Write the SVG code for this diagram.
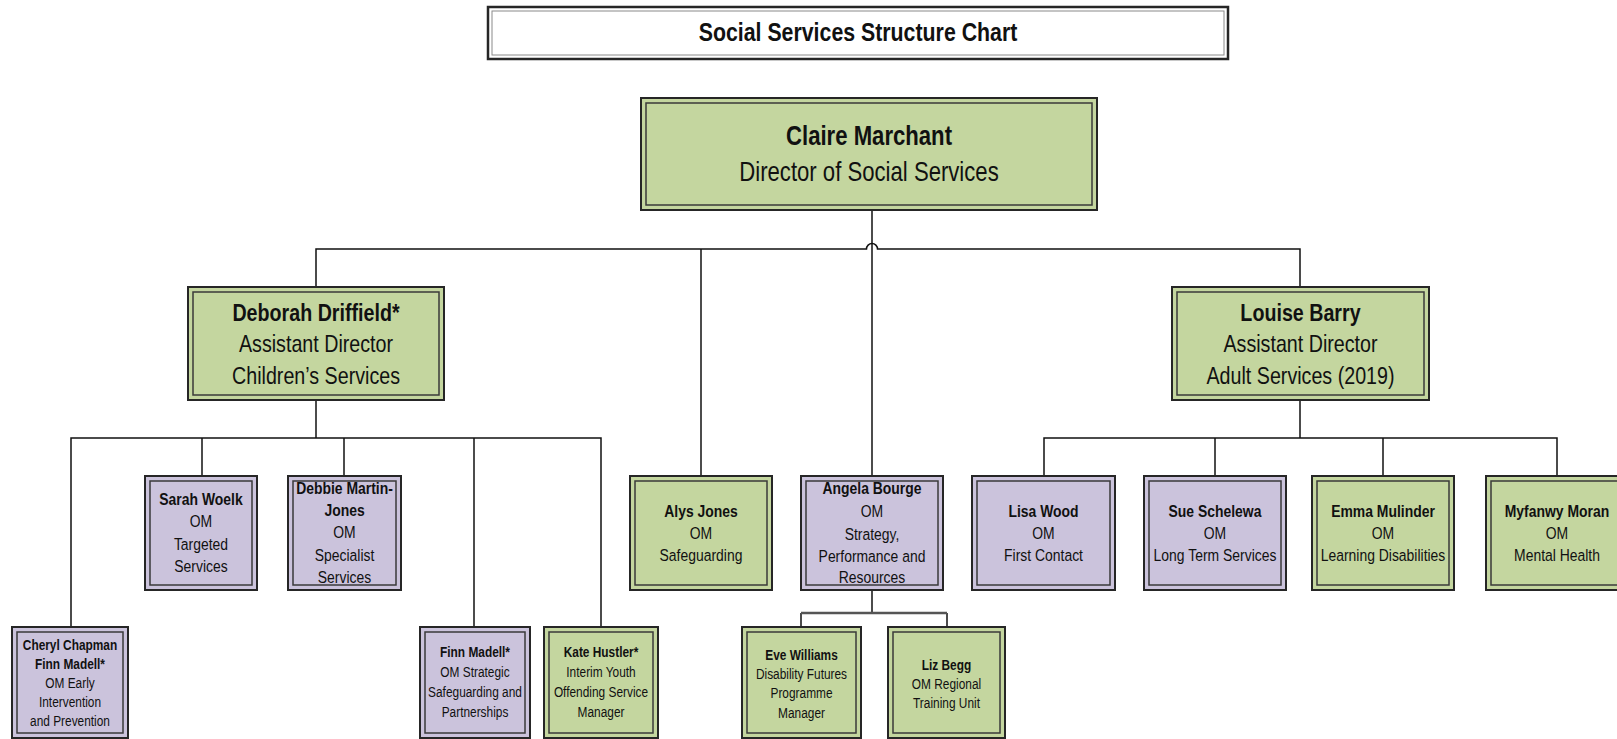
<svg xmlns="http://www.w3.org/2000/svg" width="1617" height="739" viewBox="0 0 1617 739">
<style>
text { font-family: "Liberation Sans", Arial, sans-serif; fill: #111; text-anchor: middle; }
.b { font-weight: bold; }
.t1 { font-size: 26px; }
.t2 { font-size: 27px; }
.t3 { font-size: 24px; }
.t4 { font-size: 17px; }
.t5 { font-size: 14.5px; }
.o { stroke: #262626; stroke-width: 2; }
.i { stroke: #3a3a3a; stroke-width: 1.5; }
.g rect { fill: #c4d69f; }
.p rect { fill: #cbc3dc; }
.w rect.o { fill: #ffffff; stroke-width: 2.5; }
.w rect.i { fill: #ffffff; stroke: #8a8a8a; stroke-width: 1; }
.conn path { stroke: #111; stroke-width: 1.5; fill: none; }
.conn path.sub { stroke: #555; stroke-width: 2.5; }
</style>

<g class="conn" id="connectors">
  <path d="M872,210 V476"/>
  <path d="M316,287 V249 H866.5 A5.5 5.5 0 0 1 877.5 249 H1300 V287"/>
  <path d="M701,249 V476"/>
  <path d="M316,400 V438"/>
  <path d="M71,627 V438 H601 V627"/>
  <path d="M202,438 V476"/>
  <path d="M344,438 V476"/>
  <path d="M474,438 V627"/>
  <path d="M1300,400 V438"/>
  <path d="M1044,476 V438 H1557 V476"/>
  <path d="M1215,438 V476"/>
  <path d="M1383,438 V476"/>
  <path d="M872,590 V613"/>
  <path d="M801,627 V613"/>
  <path d="M947,627 V613"/>
  <path class="sub" d="M801,613 H947"/>
</g>

<g id="title" class="w">
  <rect class="o" x="488" y="7" width="740" height="52"/>
  <rect class="i" x="492" y="11" width="732" height="44"/>
  <g transform="translate(858 0) scale(0.82 1)">
    <text class="b t1" x="0" y="41">Social Services Structure Chart</text>
  </g>
</g>

<g id="claire" class="g">
  <rect class="o" x="641" y="98" width="456" height="112"/>
  <rect class="i" x="646" y="103" width="446" height="102"/>
  <g transform="translate(869 0) scale(0.82 1)">
    <text class="b t2" x="0" y="145">Claire Marchant</text>
    <text class="t2" x="0" y="181">Director of Social Services</text>
  </g>
</g>

<g id="deborah" class="g">
  <rect class="o" x="188" y="287" width="256" height="113"/>
  <rect class="i" x="193" y="292" width="246" height="103"/>
  <g transform="translate(316 0) scale(0.82 1)">
    <text class="b t3" x="0" y="321">Deborah Driffield*</text>
    <text class="t3" x="0" y="352">Assistant Director</text>
    <text class="t3" x="0" y="384">Children’s Services</text>
  </g>
</g>

<g id="louise" class="g">
  <rect class="o" x="1172" y="287" width="257" height="113"/>
  <rect class="i" x="1177" y="292" width="247" height="103"/>
  <g transform="translate(1300.5 0) scale(0.82 1)">
    <text class="b t3" x="0" y="321">Louise Barry</text>
    <text class="t3" x="0" y="352">Assistant Director</text>
    <text class="t3" x="0" y="384">Adult Services (2019)</text>
  </g>
</g>

<g id="sarah" class="p">
  <rect class="o" x="145" y="476" width="112" height="114"/>
  <rect class="i" x="150" y="481" width="102" height="104"/>
  <g transform="translate(201 0) scale(0.82 1)">
    <text class="b t4" x="0" y="505">Sarah Woelk</text>
    <text class="t4" x="0" y="527">OM</text>
    <text class="t4" x="0" y="550">Targeted</text>
    <text class="t4" x="0" y="572">Services</text>
  </g>
</g>

<g id="debbie" class="p">
  <rect class="o" x="288" y="476" width="113" height="114"/>
  <rect class="i" x="293" y="481" width="103" height="104"/>
  <g transform="translate(344.5 0) scale(0.82 1)">
    <text class="b t4" x="0" y="494">Debbie Martin-</text>
    <text class="b t4" x="0" y="516">Jones</text>
    <text class="t4" x="0" y="538">OM</text>
    <text class="t4" x="0" y="561">Specialist</text>
    <text class="t4" x="0" y="583">Services</text>
  </g>
</g>

<g id="alys" class="g">
  <rect class="o" x="630" y="476" width="142" height="114"/>
  <rect class="i" x="635" y="481" width="132" height="104"/>
  <g transform="translate(701 0) scale(0.82 1)">
    <text class="b t4" x="0" y="517">Alys Jones</text>
    <text class="t4" x="0" y="539">OM</text>
    <text class="t4" x="0" y="561">Safeguarding</text>
  </g>
</g>

<g id="angela" class="p">
  <rect class="o" x="801" y="476" width="142" height="114"/>
  <rect class="i" x="806" y="481" width="132" height="104"/>
  <g transform="translate(872 0) scale(0.82 1)">
    <text class="b t4" x="0" y="494">Angela Bourge</text>
    <text class="t4" x="0" y="517">OM</text>
    <text class="t4" x="0" y="540">Strategy,</text>
    <text class="t4" x="0" y="562">Performance and</text>
    <text class="t4" x="0" y="583">Resources</text>
  </g>
</g>

<g id="lisa" class="p">
  <rect class="o" x="972" y="476" width="143" height="114"/>
  <rect class="i" x="977" y="481" width="133" height="104"/>
  <g transform="translate(1043.5 0) scale(0.82 1)">
    <text class="b t4" x="0" y="517">Lisa Wood</text>
    <text class="t4" x="0" y="539">OM</text>
    <text class="t4" x="0" y="561">First Contact</text>
  </g>
</g>

<g id="sue" class="p">
  <rect class="o" x="1144" y="476" width="142" height="114"/>
  <rect class="i" x="1149" y="481" width="132" height="104"/>
  <g transform="translate(1215 0) scale(0.82 1)">
    <text class="b t4" x="0" y="517">Sue Schelewa</text>
    <text class="t4" x="0" y="539">OM</text>
    <text class="t4" x="0" y="561">Long Term Services</text>
  </g>
</g>

<g id="emma" class="g">
  <rect class="o" x="1312" y="476" width="142" height="114"/>
  <rect class="i" x="1317" y="481" width="132" height="104"/>
  <g transform="translate(1383 0) scale(0.82 1)">
    <text class="b t4" x="0" y="517">Emma Mulinder</text>
    <text class="t4" x="0" y="539">OM</text>
    <text class="t4" x="0" y="561">Learning Disabilities</text>
  </g>
</g>

<g id="myfanwy" class="g">
  <rect class="o" x="1486" y="476" width="142" height="114"/>
  <rect class="i" x="1491" y="481" width="132" height="104"/>
  <g transform="translate(1557 0) scale(0.82 1)">
    <text class="b t4" x="0" y="517">Myfanwy Moran</text>
    <text class="t4" x="0" y="539">OM</text>
    <text class="t4" x="0" y="561">Mental Health</text>
  </g>
</g>

<g id="cheryl" class="p">
  <rect class="o" x="12" y="627" width="116" height="111"/>
  <rect class="i" x="17" y="632" width="106" height="101"/>
  <g transform="translate(70 0) scale(0.82 1)">
    <text class="b t5" x="0" y="650">Cheryl Chapman</text>
    <text class="b t5" x="0" y="669">Finn Madell*</text>
    <text class="t5" x="0" y="688">OM Early</text>
    <text class="t5" x="0" y="707">Intervention</text>
    <text class="t5" x="0" y="726">and Prevention</text>
  </g>
</g>

<g id="finn" class="p">
  <rect class="o" x="420" y="627" width="110" height="111"/>
  <rect class="i" x="425" y="632" width="100" height="101"/>
  <g transform="translate(475 0) scale(0.82 1)">
    <text class="b t5" x="0" y="657">Finn Madell*</text>
    <text class="t5" x="0" y="677">OM Strategic</text>
    <text class="t5" x="0" y="697">Safeguarding and</text>
    <text class="t5" x="0" y="717">Partnerships</text>
  </g>
</g>

<g id="kate" class="g">
  <rect class="o" x="544" y="627" width="114" height="111"/>
  <rect class="i" x="549" y="632" width="104" height="101"/>
  <g transform="translate(601 0) scale(0.82 1)">
    <text class="b t5" x="0" y="657">Kate Hustler*</text>
    <text class="t5" x="0" y="677">Interim Youth</text>
    <text class="t5" x="0" y="697">Offending Service</text>
    <text class="t5" x="0" y="717">Manager</text>
  </g>
</g>

<g id="eve" class="g">
  <rect class="o" x="742" y="627" width="119" height="111"/>
  <rect class="i" x="747" y="632" width="109" height="101"/>
  <g transform="translate(801.5 0) scale(0.82 1)">
    <text class="b t5" x="0" y="660">Eve Williams</text>
    <text class="t5" x="0" y="679">Disability Futures</text>
    <text class="t5" x="0" y="698">Programme</text>
    <text class="t5" x="0" y="718">Manager</text>
  </g>
</g>

<g id="liz" class="g">
  <rect class="o" x="888" y="627" width="117" height="111"/>
  <rect class="i" x="893" y="632" width="107" height="101"/>
  <g transform="translate(946.5 0) scale(0.82 1)">
    <text class="b t5" x="0" y="670">Liz Begg</text>
    <text class="t5" x="0" y="689">OM Regional</text>
    <text class="t5" x="0" y="708">Training Unit</text>
  </g>
</g>
</svg>
